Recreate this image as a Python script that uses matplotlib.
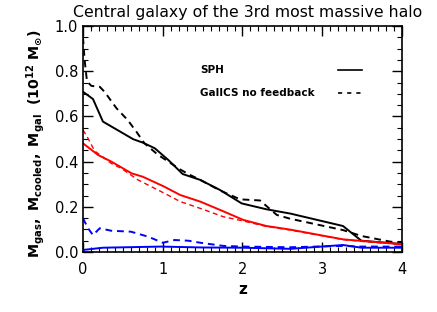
import matplotlib
matplotlib.use("Agg")
import matplotlib.pyplot as plt
from matplotlib.ticker import MultipleLocator

# SPH galaxy mass (black solid)
z_gal_sph = [0, 0.125, 0.25, 0.63, 0.75, 0.9, 1.07, 1.25, 1.47, 1.72, 1.99, 2.30, 2.60, 3.26, 3.49, 4.0]
m_gal_sph = [0.709, 0.677, 0.577, 0.499, 0.484, 0.459, 0.407, 0.345, 0.319, 0.274, 0.215, 0.189, 0.170, 0.115, 0.05, 0.035]

# GalICS galaxy mass (black dashed)
z_gal_gal = [0, 0.02, 0.05, 0.105, 0.21, 0.27, 0.42, 0.56, 0.67, 0.77, 0.94, 1.07, 1.22, 1.32, 1.47, 1.72, 1.97, 2.22, 2.43, 2.6, 3.26, 3.49, 3.85, 4.0]
m_gal_gal = [0.95, 0.85, 0.755, 0.735, 0.731, 0.709, 0.636, 0.584, 0.532, 0.481, 0.43, 0.40, 0.365, 0.345, 0.319, 0.272, 0.233, 0.228, 0.164, 0.147, 0.097, 0.071, 0.046, 0.04]

# SPH cooled mass (red solid)
z_cool_sph = [0, 0.19, 0.355, 0.61, 0.75, 1.02, 1.22, 1.47, 1.72, 2.01, 2.30, 2.60, 3.26, 3.49, 4.0]
m_cool_sph = [0.481, 0.429, 0.40, 0.348, 0.333, 0.289, 0.252, 0.223, 0.186, 0.142, 0.115, 0.099, 0.056, 0.049, 0.035]

# GalICS cooled mass (red dashed)
z_cool_gal = [0, 0.063, 0.146, 0.355, 0.48, 0.69, 1.02, 1.22, 1.47, 1.76, 2.0, 2.3, 2.6, 3.26, 3.49, 4.0]
m_cool_gal = [0.54, 0.503, 0.447, 0.392, 0.37, 0.319, 0.26, 0.223, 0.193, 0.156, 0.138, 0.113, 0.097, 0.055, 0.047, 0.033]

# SPH gas mass (blue solid)
z_gas_sph = [0, 0.25, 0.98, 1.5, 2.0, 2.6, 3.26, 3.49, 4.0]
m_gas_sph = [0.009, 0.019, 0.024, 0.02, 0.019, 0.014, 0.031, 0.019, 0.019]

# GalICS gas mass (blue dashed)
z_gas_gal = [0, 0.063, 0.125, 0.21, 0.355, 0.6, 0.815, 1.0, 1.15, 1.32, 1.47, 1.76, 2.0, 2.6, 3.26, 3.49, 4.0]
m_gas_gal = [0.149, 0.105, 0.075, 0.105, 0.094, 0.09, 0.068, 0.041, 0.053, 0.05, 0.041, 0.027, 0.024, 0.021, 0.027, 0.024, 0.024]

legend_labels = ["SPH", "GalICS no feedback"]

fig = plt.figure(figsize=(4.37, 3.12), dpi=100)
ax = fig.add_axes([83/437, 60/312, 319/437, 226/312])

lw = 1.4
dash = (0, (3.5, 2.5))
ax.plot(z_gal_sph, m_gal_sph, color="black", lw=lw)
ax.plot(z_gal_gal, m_gal_gal, color="black", lw=lw, linestyle=dash)
ax.plot(z_cool_sph, m_cool_sph, color="red", lw=lw)
ax.plot(z_cool_gal, m_cool_gal, color="red", lw=1.0, linestyle=dash)
ax.plot(z_gas_sph, m_gas_sph, color="blue", lw=lw)
ax.plot(z_gas_gal, m_gas_gal, color="blue", lw=lw, linestyle=dash)

ax.set_xlim(0, 4)
ax.set_ylim(0, 1.0)
ax.xaxis.set_major_locator(MultipleLocator(1))
ax.xaxis.set_minor_locator(MultipleLocator(0.1))
ax.yaxis.set_major_locator(MultipleLocator(0.2))
ax.yaxis.set_minor_locator(MultipleLocator(0.05))
ax.set_yticks([0, 0.2, 0.4, 0.6, 0.8, 1.0])
ax.set_yticklabels(["0.0", "0.2", "0.4", "0.6", "0.8", "1.0"])
ax.tick_params(which="both", direction="in", top=True, right=True, labelsize=10.5)
ax.tick_params(which="major", length=7, width=1)
ax.tick_params(which="minor", length=3.5, width=0.8)
ax.tick_params(axis="x", pad=7)
for s in ax.spines.values():
    s.set_linewidth(1.2)

ax.set_xlabel("z", fontsize=11, fontweight="bold", labelpad=4)
ax.set_ylabel(r"$\mathbf{M_{gas},\ M_{cooled},\ M_{gal}\ \ (10^{12}\ M_{\odot})}$", fontsize=10.3)
ax.yaxis.set_label_coords(-0.112, 0.48)
ax.set_title("Central galaxy of the 3rd most massive halo", fontsize=11.3, pad=6.5, x=0.517)

# legend drawn IDL-style: text on the left, sample line on the right
ax.text(0.367, 0.805, legend_labels[0], transform=ax.transAxes, fontsize=7.5, va="center", fontweight="bold")
ax.text(0.367, 0.704, legend_labels[1], transform=ax.transAxes, fontsize=7.5, va="center", fontweight="bold")
ax.plot([0.80, 0.875], [0.805, 0.805], transform=ax.transAxes, color="black", lw=1.2)
ax.plot([0.80, 0.875], [0.704, 0.704], transform=ax.transAxes, color="black", lw=1.2, linestyle=(0, (2.5, 3)))

fig.savefig("out.png", dpi=100)
